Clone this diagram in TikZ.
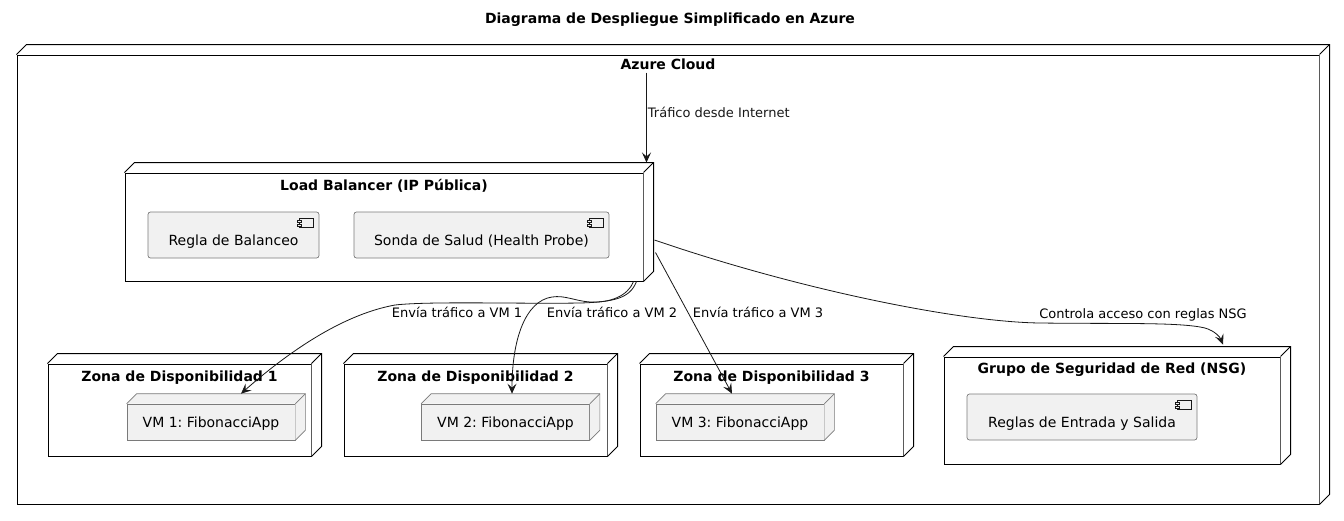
\documentclass[tikz,border=0pt]{standalone}
\usepackage{fontspec}
\setmainfont{DejaVu Sans}
\usetikzlibrary{calc}
\usetikzlibrary{arrows.meta}
\frenchspacing

\definecolor{umlfill}{HTML}{F1F1F1}
\definecolor{umlgrey}{HTML}{7A7A7A}
\definecolor{umlline}{HTML}{181818}

% top and right faces of a 3d box drawn on a node
\newcommand{\nodedepth}[3][]{%
 \path[#1, draw=none] (#2.north west) -- ++(#3,-#3) -| ($(#2.south east)+(#3,-#3)$) -- (#2.south east) -- (#2.north east) -- cycle;
 \draw[#1, fill=none] (#2.north west) -- ++(#3,-#3) -| ($(#2.south east)+(#3,-#3)$) -- (#2.south east);
 \draw[#1, fill=none] (#2.north east) -- ++(#3,-#3);
}
% small component glyph in the upper right corner
\newcommand{\compicon}[1]{%
 \draw[umlline, fill=umlfill, line width=.5pt] ($(#1.north east)+(-20,7)$) rectangle ++(14,9);
 \draw[umlline, fill=umlfill, line width=.5pt] ($(#1.north east)+(-22,9)$) rectangle ++(4,2);
 \draw[umlline, fill=umlfill, line width=.5pt] ($(#1.north east)+(-22,13)$) rectangle ++(4,2);
}

\begin{document}
\begin{tikzpicture}[x=1pt, y=-1pt, font=\fontsize{13}{15}\selectfont,
 every node/.style={text height=9.5pt, text depth=0pt},
 container/.style={draw=black, line width=1pt, fill=white, inner sep=0pt},
 outer/.style={draw=black, line width=1pt, fill=white},
 compbox/.style={draw=umlgrey, line width=.7pt, fill=umlfill, rounded corners=2.5pt, inner sep=0pt,
  font=\fontsize{14}{16}\selectfont, text height=21pt},
 vmbox/.style={draw=umlgrey, line width=.7pt, fill=umlfill, inner sep=0pt,
  font=\fontsize{14}{16}\selectfont, text height=10.2pt},
 vmface/.style={draw=umlgrey, line width=.7pt, fill=umlfill},
 ttl/.style={font=\fontsize{14}{16}\selectfont\bfseries, text height=10.2pt},
 flow/.style={umlline, line width=.8pt, -{Stealth[length=10pt,width=9pt,inset=4pt]}}]
\useasboundingbox (0,0) rectangle (1344,520);

\node[ttl] (title) at (670,18) {Diagrama de Despliegue Simplificado en Azure};

% cloud
\node[container, minimum width=1302pt, minimum height=449pt] (cloud) at (668,279.5) {};
\nodedepth[outer]{cloud}{10}
\node[ttl] (cloudttl) at (668,64) {Azure Cloud};

% load balancer
\node[container, minimum width=518pt, minimum height=108pt] (lb) at (384,227) {};
\nodedepth[outer]{lb}{10}
\node[ttl] (lbttl) at (384,185) {Load Balancer (IP Pública)};
\node[compbox, minimum width=171pt, minimum height=46pt] (regla) at (233.5,235) {Regla de Balanceo};
\node[compbox, minimum width=255pt, minimum height=46pt] (sonda) at (481.5,235) {Sonda de Salud (Health Probe)};
\compicon{regla}
\compicon{sonda}

% zonas
\foreach \i/\zx/\vx in {1/179.5/211, 2/475.5/505.5, 3/771.5/740} {
 \node[container, minimum width=263pt, minimum height=92pt] (zona\i) at (\zx,410) {};
 \nodedepth[outer]{zona\i}{10}
 \node[ttl] (zona\i ttl) at (\zx,376) {Zona de Disponibilidad \i};
 \node[vmbox, minimum width=168pt, minimum height=36pt] (vm\i) at (\vx,422) {VM \i: FibonacciApp};
 \nodedepth[vmface]{vm\i}{10}
}

% nsg
\node[container, minimum width=336pt, minimum height=107pt] (nsg) at (1112,410.5) {};
\nodedepth[outer]{nsg}{10}
\node[ttl] (nsgttl) at (1112,368) {Grupo de Seguridad de Red (NSG)};
\node[compbox, minimum width=230pt, minimum height=46pt] (reglas) at (1082,417) {Reglas de Entrada y Salida};
\compicon{reglas}

% connectors
\coordinate (lbtop) at ($(lb.north east)+(3,-10)$);
\draw[flow] (cloudttl.south -| lbtop) -- (lbtop) node[pos=.45, right, inner sep=1pt] (lblinet) {Tráfico desde Internet};

\draw[flow] ($(lb.south east)+(-7,0)$) .. controls (630,298) and (615,302) .. (580,303)
 .. controls (520,304) and (430,301) .. (395,305) .. controls (340,315) and (285,355) .. ($(vm1.north)+(30,-10)$);
\draw[flow] ($(lb.south east)+(-10,0)$) .. controls (628,296) and (610,303) .. (590,302)
 .. controls (575,301) and (565,295) .. (552,297) .. controls (525,301) and (512,340) .. ($(vm2.north)+(6.5,-10)$);
\draw[flow] ($(lb.south east)+(12,-29)$) -- ($(vm3.north)+(-8,-10)$);
\draw[flow] ($(lb.east)+(11,13)$) .. controls (800,290) and (960,322) .. (1040,323)
 .. controls (1120,324) and (1180,322) .. (1205,328) .. controls (1215,331) and (1220,337) .. ($(nsg.north)+(111,-12)$);

\node (lblvm1) at (457,313) {Envía tráfico a VM 1};
\node (lblvm2) at (612,313) {Envía tráfico a VM 2};
\node (lblvm3) at (758,313) {Envía tráfico a VM 3};
\node (lblnsg) at (1143,314) {Controla acceso con reglas NSG};
\end{tikzpicture}
\end{document}
